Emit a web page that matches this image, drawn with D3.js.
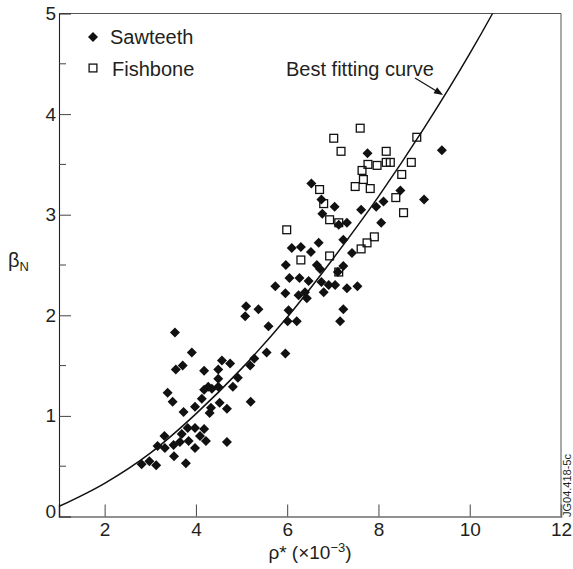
<!DOCTYPE html>
<html>
<head>
<meta charset="utf-8">
<script src="https://cdn.jsdelivr.net/npm/d3@7"></script>
<style>
  html, body { margin: 0; padding: 0; background: #fff; }
  svg { display: block; }
  text { font-family: "Liberation Sans", Arial, Helvetica, sans-serif; fill: #231f20; }
</style>
</head>
<body>
<svg id="chart" width="573" height="569"></svg>
<script>
// ---- Data ----
const sawteeth = [
  [2.81,0.52],[2.98,0.55],[3.13,0.51],[3.16,0.70],[3.31,0.80],[3.32,0.68],[3.51,0.71],[3.52,0.60],
  [3.65,0.74],[3.69,0.82],[3.78,0.53],[3.84,0.75],[3.82,0.88],[3.98,0.68],[3.98,0.88],[4.09,0.80],
  [4.18,0.87],[4.22,0.75],[4.68,0.74],[3.38,1.23],[3.49,1.14],[3.73,1.04],[3.98,1.09],[4.13,1.17],
  [4.18,1.26],[4.27,1.29],[4.35,1.27],[4.30,1.03],[4.33,1.08],[4.49,1.29],[4.49,1.37],[4.52,1.13],
  [4.68,1.07],[4.81,1.29],[4.92,1.38],[4.49,1.46],[4.57,1.55],[4.75,1.52],[4.18,1.45],[3.56,1.46],
  [3.71,1.50],[3.91,1.63],[3.54,1.83],[5.08,1.99],[5.10,2.09],[5.37,2.06],[5.19,1.50],[5.28,1.57],
  [5.20,1.14],[5.59,1.89],[5.55,1.63],[5.96,1.62],[5.74,2.29],[5.96,2.22],[6.03,2.05],[6.01,1.94],
  [6.21,1.94],[6.25,2.20],
  [9.39,3.64],[7.76,3.61],[6.53,3.31],[6.75,3.15],[6.77,3.01],[7.04,3.08],[7.13,2.90],[7.31,2.92],
  [7.62,3.05],[7.95,3.08],[8.11,3.13],[8.48,3.24],[9.00,3.15],[8.06,2.92],[7.23,2.75],[7.42,2.62],
  [6.69,2.72],[6.10,2.67],[6.30,2.68],[6.52,2.63],[5.97,2.50],[6.65,2.50],[6.72,2.46],[7.23,2.49],
  [6.05,2.37],[6.27,2.37],[6.47,2.34],[6.75,2.33],[6.91,2.30],[7.05,2.30],[7.31,2.27],[7.54,2.29],
  [6.39,2.23],[6.43,2.17],[6.80,2.23],[7.23,2.06],[7.16,1.94],[7.11,2.43]
];
const fishbone = [
  [7.60,3.86],[7.02,3.76],[7.18,3.63],[8.84,3.77],[8.17,3.63],[7.77,3.50],[7.97,3.49],[8.17,3.52],
  [8.26,3.52],[7.64,3.44],[8.72,3.52],[8.51,3.40],[7.67,3.35],[7.49,3.28],[7.82,3.26],[6.71,3.25],
  [6.80,3.11],[8.38,3.17],[8.55,3.02],[6.93,2.95],[7.13,2.92],[5.99,2.85],[7.91,2.78],[7.75,2.72],
  [7.62,2.66],[6.30,2.55],[6.93,2.59],[7.13,2.43]
];
// best fitting curve
const fitCurve = [
  [1,0.10],[2,0.33],[3,0.63],[4,1.02],[5,1.47],[6,1.98],[7,2.56],[8,3.18],[9,3.86],[10,4.60],[10.5,5.0],[10.8,5.25]
];
const xTicks = [2,4,6,8,10,12];
const yTicks = [0,1,2,3,4,5];
const yMinorTicks = [0.5,1.5,2.5,3.5,4.5];
const legendItems = ["Sawteeth","Fishbone"];

// ---- Layout ----
const svg = d3.select("#chart");
const x = d3.scaleLinear().domain([1,12]).range([59,561]);
const y = d3.scaleLinear().domain([0,5]).range([516.5,13.5]);
const L = x.range()[0], R = x.range()[1], T = y.range()[1], B = y.range()[0];

svg.append("defs").append("clipPath").attr("id","plotclip")
  .append("rect").attr("x",L).attr("y",T).attr("width",R-L).attr("height",B-T);

// Frame
svg.append("line").attr("x1",L).attr("x2",R).attr("y1",T).attr("y2",T).attr("stroke","#555").attr("stroke-width",1);
svg.append("line").attr("x1",R).attr("x2",R).attr("y1",T).attr("y2",B).attr("stroke","#555").attr("stroke-width",1);

// X axis (ticks inward)
const xAxis = d3.axisBottom(x).tickValues(xTicks).tickSize(-12).tickPadding(6).tickFormat(d3.format("d"));
const gx = svg.append("g").attr("transform",`translate(0,${B})`).call(xAxis);
gx.select(".domain").attr("stroke","#6d6d6d").attr("stroke-width",1.6);
gx.selectAll(".tick line").attr("stroke","#444").attr("stroke-width",1);
gx.selectAll(".tick text").attr("font-size",19).attr("dy","0.78em").attr("y",5)
  .style("font-family","Liberation Sans, Arial, sans-serif").attr("fill","#231f20");
gx.selectAll(".tick").filter(d => d === 12).select("line").remove();

// Y axis (ticks inward)
const yAxis = d3.axisLeft(y).tickValues(yTicks).tickSize(-12).tickPadding(4).tickFormat(d3.format("d"));
const gy = svg.append("g").attr("transform",`translate(${L},0)`).call(yAxis);
gy.select(".domain").attr("stroke","#222").attr("stroke-width",1.1);
gy.selectAll(".tick line").attr("stroke","#444").attr("stroke-width",1);
gy.selectAll(".tick text").attr("font-size",19).attr("x",-3)
  .style("font-family","Liberation Sans, Arial, sans-serif").attr("fill","#231f20");
gy.selectAll(".tick").filter(d => d === 0).select("text").attr("dy","0.05em");
gy.selectAll(".tick").filter(d => d === 0 || d === 5).select("line").remove();
// minor y ticks
svg.append("g").selectAll("line").data(yMinorTicks).join("line")
  .attr("x1",L).attr("x2",L+7).attr("y1",d=>y(d)).attr("y2",d=>y(d))
  .attr("stroke","#444").attr("stroke-width",1);

// Axis titles
const xt = svg.append("text").attr("x",310).attr("y",559).attr("text-anchor","middle").attr("font-size",19);
xt.append("tspan").text("ρ* (×10");
xt.append("tspan").attr("font-size",13).attr("dy",-7).text("−3");
xt.append("tspan").attr("dy",7).text(")");

const yt = svg.append("text").attr("x",8).attr("y",267).attr("font-size",20);
yt.append("tspan").text("β");
yt.append("tspan").attr("font-size",13).attr("dy",4).text("N");

// Curve
const line = d3.line().x(d=>x(d[0])).y(d=>y(d[1])).curve(d3.curveMonotoneX);
svg.append("path").datum(fitCurve).attr("d",line).attr("fill","none")
  .attr("stroke","#111").attr("stroke-width",1.5).attr("clip-path","url(#plotclip)");

// Markers
const DR = 5, SQ = 7.8;
const diamond = (cx,cy,r) => `M${cx},${cy-r}L${cx+r},${cy}L${cx},${cy+r}L${cx-r},${cy}Z`;
svg.append("g").selectAll("path").data(sawteeth).join("path")
  .attr("d", d => diamond(x(d[0]), y(d[1]), DR)).attr("fill","#111");
svg.append("g").selectAll("rect").data(fishbone).join("rect")
  .attr("x", d => x(d[0]) - SQ/2).attr("y", d => y(d[1]) - SQ/2)
  .attr("width",SQ).attr("height",SQ)
  .attr("fill","none").attr("stroke","#111").attr("stroke-width",1.3);

// Legend
svg.append("path").attr("d", diamond(93,37,DR)).attr("fill","#111");
svg.append("text").attr("x",110).attr("y",44).attr("font-size",20).text(legendItems[0]);
svg.append("rect").attr("x",93-SQ/2).attr("y",68-SQ/2).attr("width",SQ).attr("height",SQ)
  .attr("fill","none").attr("stroke","#111").attr("stroke-width",1.3);
svg.append("text").attr("x",112).attr("y",76).attr("font-size",20).text(legendItems[1]);

// Annotation
svg.append("text").attr("x",286).attr("y",75.5).attr("font-size",20).text("Best fitting curve");
const tip = [443, 95], start = [415, 78];
svg.append("line").attr("x1",start[0]).attr("y1",start[1]).attr("x2",tip[0]-5).attr("y2",tip[1]-3)
  .attr("stroke","#111").attr("stroke-width",1.2);
{
  const ang = Math.atan2(tip[1]-start[1], tip[0]-start[0]);
  const len = 9, w = 3.5;
  const bx = tip[0] - len*Math.cos(ang), by = tip[1] - len*Math.sin(ang);
  const px = -Math.sin(ang)*w, py = Math.cos(ang)*w;
  svg.append("path").attr("d",`M${tip[0]},${tip[1]}L${bx+px},${by+py}L${bx-px},${by-py}Z`).attr("fill","#111");
}

// Figure code
svg.append("text").attr("transform","translate(571,517) rotate(-90)").attr("font-size",11).text("JG04.418-5c");
</script>
</body>
</html>
